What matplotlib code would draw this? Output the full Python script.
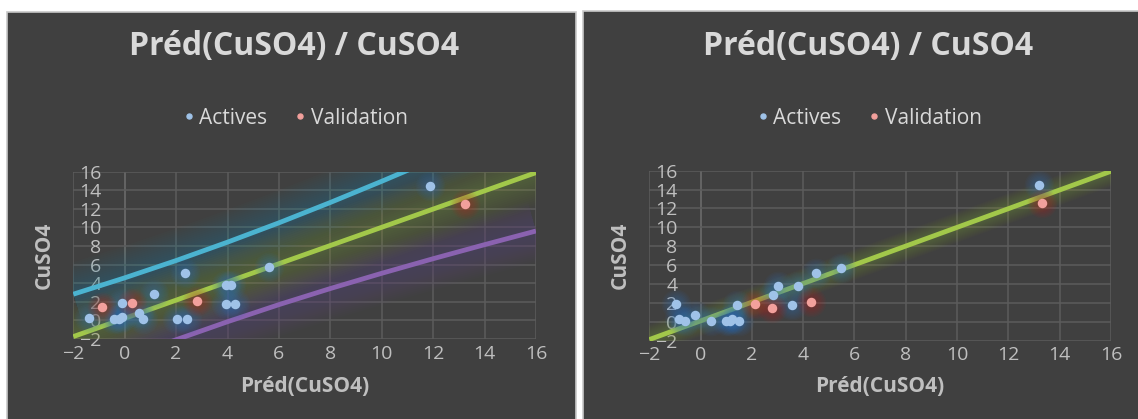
import matplotlib
matplotlib.use("Agg")
import matplotlib.pyplot as plt
from matplotlib.patches import Rectangle
from matplotlib.lines import Line2D

W, H = 1138, 419

# observed CuSO4 (shared by both models)
obs_act = [0.30, 1.90, 0.13, 0.13, 0.13, 0.13, 0.13, 0.34, 0.77,
           2.88, 5.14, 3.82, 3.82, 1.74, 1.74, 5.72, 14.46]
obs_val = [1.42, 1.85, 2.13, 12.56]

# predictions, model 1 (left) and model 2 (right)
pred1_act = [-1.37, -0.09, -0.40, -0.24, 0.72, 2.03, 2.42, -0.10, 0.56,
             1.15, 2.34, 3.95, 4.12, 3.95, 4.29, 5.60, 11.89]
pred1_val = [-0.89, 0.28, 2.83, 13.25]
pred2_act = [-0.83, -0.96, -0.61, 0.40, 0.98, 1.14, 1.48, 1.22, -0.22,
             2.84, 4.49, 3.00, 3.79, 1.40, 3.58, 5.49, 13.20]
pred2_val = [2.80, 2.14, 4.32, 13.30]

# fitted line and prediction band
line_x = [-2, 0, 2, 4, 6, 8, 10, 12, 14, 16]
fit1 = [-1.74, 0.22, 2.18, 4.14, 6.10, 8.06, 10.02, 11.98, 13.94, 15.90]
upper1 = [2.82, 4.58, 6.44, 8.42, 10.50, 12.69, 14.97, 17.32, 19.73, 22.18]
lower1 = [-6.30, -4.14, -2.08, -0.14, 1.70, 3.43, 5.07, 6.64, 8.15, 9.62]
fit2 = [-1.88, 0.10, 2.08, 4.06, 6.04, 8.02, 10.00, 11.98, 13.96, 15.94]

ticks = list(range(-2, 17, 2))

BG = "#404040"
TXT = "#d9d9d9"
LBL = "#bfbfbf"
BLUE, BLUE_GLOW = "#9fc2e8", "#2f74c0"
RED, RED_GLOW = "#f2a09c", "#c02020"
GREEN, CYAN, PURPLE = "#a2c84a", "#4bb3d0", "#8a62b0"

PT = 72 / 100  # points per pixel at dpi 100


def glow_line(ax, x, y, color, glow, spread_px, n=14, alpha=0.028):
    for i in range(n):
        lw = (5 + spread_px * 2 * (i + 1) / n) * PT
        ax.plot(x, y, color=glow, lw=lw, alpha=alpha, solid_capstyle="butt", zorder=2)
    ax.plot(x, y, color=color, lw=4.8 * PT, solid_capstyle="butt", zorder=3)


def glow_points(ax, x, y, color, glow):
    for k in range(8):
        ax.scatter(x, y, s=(9 + 2.6 * (k + 1)) ** 2 * PT ** 2, color=glow,
                   alpha=0.05, lw=0, zorder=4)
    ax.scatter(x, y, s=(9.5 * PT) ** 2, color=color, lw=0, zorder=5)


def panel(x0, top, x1, ax_box, cx, pa, pv, lines):
    fig.add_artist(Rectangle((x0 / W, -0.05), (x1 - x0) / W, 1.05 - top / H,
                             transform=fig.transFigure, facecolor=BG,
                             edgecolor="#c8c8c8", lw=1.2, zorder=0))
    l, t, r, b = ax_box
    ax = fig.add_axes([l / W, 1 - b / H, (r - l) / W, (b - t) / H])
    ax.set_facecolor("none")
    ax.set_xlim(-2, 16)
    ax.set_ylim(-2, 16)
    ax.set_xticks(ticks)
    ax.set_yticks(ticks)
    ax.grid(True, color="#5c5c5c", lw=1.5 * PT, zorder=1)
    ax.axvline(0, color="#8c8c8c", lw=1.5 * PT, zorder=1)
    for s in ax.spines.values():
        s.set_visible(False)
    ax.tick_params(length=0, labelsize=14, labelcolor=LBL)
    ax.tick_params(axis="y", pad=-28 * PT)
    ax.tick_params(axis="x", pad=4)
    for lab in ax.get_xticklabels() + ax.get_yticklabels():
        lab.set_family("Open Sans")

    for ys, color, glow, spread in lines:
        glow_line(ax, line_x, ys, color, glow, spread)
    glow_points(ax, pa, obs_act, BLUE, BLUE_GLOW)
    glow_points(ax, pv, obs_val, RED, RED_GLOW)

    fig.text(cx / W, 1 - 46 / H, "Préd(CuSO4) / CuSO4", ha="center", va="center",
             color=TXT, fontsize=23, fontweight="bold", family="Open Sans")
    handles = [Line2D([], [], ls="", marker="o", ms=5 * PT, color=BLUE),
               Line2D([], [], ls="", marker="o", ms=5 * PT, color=RED)]
    leg = fig.legend(handles, ["Actives", "Validation"], loc="center",
                     bbox_to_anchor=(cx / W, 1 - 118 / H), ncol=2, frameon=False,
                     handletextpad=0.1, columnspacing=1.2, handlelength=0.8,
                     prop={"family": "Open Sans", "size": 15})
    for tx in leg.get_texts():
        tx.set_color(TXT)
    fig.text((l + r) / 2 / W, 1 - 386 / H, "Préd(CuSO4)", ha="center", va="center",
             color=LBL, fontsize=15, fontweight="bold", family="Open Sans")
    fig.text((l - 29) / W, 1 - (t + b) / 2 / H, "CuSO4", ha="center", va="center",
             rotation=90, color=LBL, fontsize=15, fontweight="bold",
             family="Open Sans")
    return ax


fig = plt.figure(figsize=(W / 100, H / 100), dpi=100)
fig.patch.set_facecolor("white")

panel(7, 12, 576, (73.3, 171.7, 536, 339), 294, pred1_act, pred1_val,
      [(upper1, CYAN, "#2a8aa8", 28), (lower1, PURPLE, "#6a4a9a", 28),
       (fit1, GREEN, "#8aa83a", 30)])
panel(583, 11, 1160, (649.3, 170.7, 1111, 340.7), 868, pred2_act, pred2_val,
      [(fit2, GREEN, "#8aa83a", 12)])

fig.savefig("out.png", dpi=100, facecolor=fig.get_facecolor())
